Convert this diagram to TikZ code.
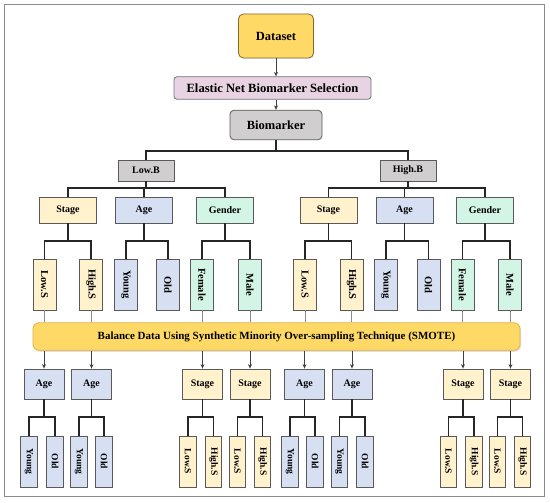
\documentclass[tikz,border=0pt]{standalone}
\usepackage{fontspec}
\setmainfont{Liberation Serif}
\usepackage{graphicx}
\usetikzlibrary{shadows,arrows.meta}
\definecolor{gold}{HTML}{FFD966}
\definecolor{dsborder}{HTML}{7F6A30}
\definecolor{pinkc}{HTML}{E8D3E2}
\definecolor{grayc}{HTML}{D0CECE}
\definecolor{stagec}{HTML}{FFF2CC}
\definecolor{agec}{HTML}{D6E0F2}
\definecolor{genderc}{HTML}{D2F5E6}
\definecolor{boxline}{HTML}{5A5A5A}
\definecolor{smoteline}{HTML}{E3B04B}
\definecolor{framec}{HTML}{8A8A8A}
\newcommand\vt[1]{\rotatebox{-90}{#1}}
\newcommand\branch[4]{%
  \draw[tree] (#1.south) -- (#1.south |- 0,#4);
  \draw[tree] (#2.north) |- (#3.north |- 0,#4) -- (#3.north);}
\newcommand\stem[2]{\draw[tree] (#1.north) -- (#1.north |- 0,#2);}
\begin{document}
\begin{tikzpicture}[x=1pt,y=-1pt,
  box/.style={draw=boxline, line width=0.8pt, inner sep=0pt, align=center,
    font=\bfseries\fontsize{10}{12}\selectfont},
  lvtwo/.style={box, minimum width=57pt, minimum height=26pt},
  leaf/.style={box, minimum width=23pt, minimum height=51pt,
    font=\bfseries\fontsize{10.5}{12}\selectfont},
  lvfour/.style={box, minimum width=40pt, minimum height=30pt},
  leafs/.style={box, minimum width=16.5pt, minimum height=51pt,
    font=\bfseries\fontsize{9.5}{11}\selectfont},
  stg/.style={fill=stagec}, ag/.style={fill=agec}, gd/.style={fill=genderc},
  tree/.style={line width=1.3pt, color=black!85, line join=miter},
  arr/.style={-{Stealth[length=4.5pt,width=4pt]}, line width=0.8pt, color=black!75},
  thinl/.style={line width=0.8pt, color=black!45}]
\useasboundingbox (0,0) rectangle (550,503);
\draw[framec, line width=1pt] (4,5) rectangle (544,496);

% top
\node[box, fill=gold, draw=dsborder, rounded corners=5pt, minimum width=75pt, minimum height=44pt,
  font=\bfseries\fontsize{12.5}{14}\selectfont, drop shadow={opacity=0.15, shadow xshift=0.8pt, shadow yshift=-1pt}] (ds) at (276,36) {Dataset};
\node[box, fill=pinkc, draw=black!55, rounded corners=3pt, minimum width=197pt, minimum height=22.5pt,
  font=\bfseries\fontsize{12.6}{14}\selectfont] (en) at (272.5,88) {Elastic Net Biomarker Selection};
\node[box, fill=grayc, rounded corners=4pt, minimum width=92pt, minimum height=29.5pt,
  font=\bfseries\fontsize{12.5}{14}\selectfont] (bm) at (276,125) {Biomarker};
\draw[arr] (ds.south) -- (ds.south |- en.north);
\draw[arr] (en.south -| ds.south) -- (ds.south |- bm.north);

\node[box, fill=grayc, minimum width=56pt, minimum height=21pt] (lb) at (146,170.5) {Low.B};
\node[box, fill=grayc, minimum width=56pt, minimum height=21pt] (hb) at (408,170.5) {High.B};
\branch{bm}{lb}{hb}{151}

% level 2
\node[lvtwo, stg] (ls) at (68,210) {Stage};
\node[lvtwo, ag] (la) at (144,210) {Age};
\node[lvtwo, gd] (lg) at (225,210) {Gender};
\node[lvtwo, stg] (rs) at (328.5,210) {Stage};
\node[lvtwo, ag] (ra) at (404.5,210) {Age};
\node[lvtwo, gd] (rg) at (485,210) {Gender};
\branch{lb}{ls}{lg}{188}
\stem{la}{188}
\branch{hb}{rs}{rg}{188}
\stem{ra}{188}

% level 3
\node[leaf, stg] (l1) at (44.5,284.5) {\vt{Low.S}};
\node[leaf, stg] (l2) at (91,284.5) {\vt{High.S}};
\node[leaf, ag] (l3) at (126,284.5) {\vt{Young}};
\node[leaf, ag] (l4) at (168,284.5) {\vt{Old}};
\node[leaf, gd] (l5) at (202,284.5) {\vt{Female}};
\node[leaf, gd] (l6) at (250,284.5) {\vt{Male}};
\node[leaf, stg] (r1) at (305,284.5) {\vt{Low.S}};
\node[leaf, stg] (r2) at (351.5,284.5) {\vt{High.S}};
\node[leaf, ag] (r3) at (386,284.5) {\vt{Young}};
\node[leaf, ag] (r4) at (428.5,284.5) {\vt{Old}};
\node[leaf, gd] (r5) at (462.5,284.5) {\vt{Female}};
\node[leaf, gd] (r6) at (510,284.5) {\vt{Male}};
\branch{ls}{l1}{l2}{241}
\branch{la}{l3}{l4}{241}
\branch{lg}{l5}{l6}{241}
\branch{rs}{r1}{r2}{241}
\branch{ra}{r3}{r4}{241}
\branch{rg}{r5}{r6}{241}

% SMOTE
\node[box, fill=gold, draw=smoteline, rounded corners=6pt, minimum width=487pt, minimum height=27.5pt,
  font=\bfseries\fontsize{11}{13}\selectfont, drop shadow={opacity=0.25, shadow xshift=1pt, shadow yshift=-1.5pt}]
  (sm) at (276.5,336.5) {Balance Data Using Synthetic Minority Over-sampling Technique (SMOTE)};
\foreach \n in {l1,l2,l5,l6,r1,r2,r5,r6}
  \draw[thinl] (\n.south) -- (\n.south |- sm.north);

% level 4
\node[lvfour, ag] (a1) at (44,384) {Age};
\node[lvfour, ag] (a2) at (91.5,384) {Age};
\node[lvfour, stg] (s1) at (202.5,384) {Stage};
\node[lvfour, stg] (s2) at (250,384) {Stage};
\node[lvfour, ag] (a3) at (304.5,384) {Age};
\node[lvfour, ag] (a4) at (352,384) {Age};
\node[lvfour, stg] (s3) at (463,384) {Stage};
\node[lvfour, stg] (s4) at (510.5,384) {Stage};
\foreach \n in {a1,a2,s1,s2,a3,a4,s3,s4}
  \draw[arr] (sm.south -| \n.north) -- (\n.north);

% level 5
\node[leafs, ag] (y1) at (29,461.5) {\vt{Young}};
\node[leafs, ag] (o1) at (55,461.5) {\vt{Old}};
\node[leafs, ag] (y2) at (79,461.5) {\vt{Young}};
\node[leafs, ag] (o2) at (104,461.5) {\vt{Old}};
\node[leafs, stg] (p1) at (188,461.5) {\vt{Low.S}};
\node[leafs, stg] (q1) at (213.5,461.5) {\vt{High.S}};
\node[leafs, stg] (p2) at (237.5,461.5) {\vt{Low.S}};
\node[leafs, stg] (q2) at (262.5,461.5) {\vt{High.S}};
\node[leafs, ag] (y3) at (290,461.5) {\vt{Young}};
\node[leafs, ag] (o3) at (315,461.5) {\vt{Old}};
\node[leafs, ag] (y4) at (339.5,461.5) {\vt{Young}};
\node[leafs, ag] (o4) at (365,461.5) {\vt{Old}};
\node[leafs, stg] (p3) at (448.5,461.5) {\vt{Low.S}};
\node[leafs, stg] (q3) at (474,461.5) {\vt{High.S}};
\node[leafs, stg] (p4) at (497.5,461.5) {\vt{Low.S}};
\node[leafs, stg] (q4) at (522.5,461.5) {\vt{High.S}};
\branch{a1}{y1}{o1}{417}
\branch{a2}{y2}{o2}{417}
\branch{s1}{p1}{q1}{417}
\branch{s2}{p2}{q2}{417}
\branch{a3}{y3}{o3}{417}
\branch{a4}{y4}{o4}{417}
\branch{s3}{p3}{q3}{417}
\branch{s4}{p4}{q4}{417}
\end{tikzpicture}
\end{document}
